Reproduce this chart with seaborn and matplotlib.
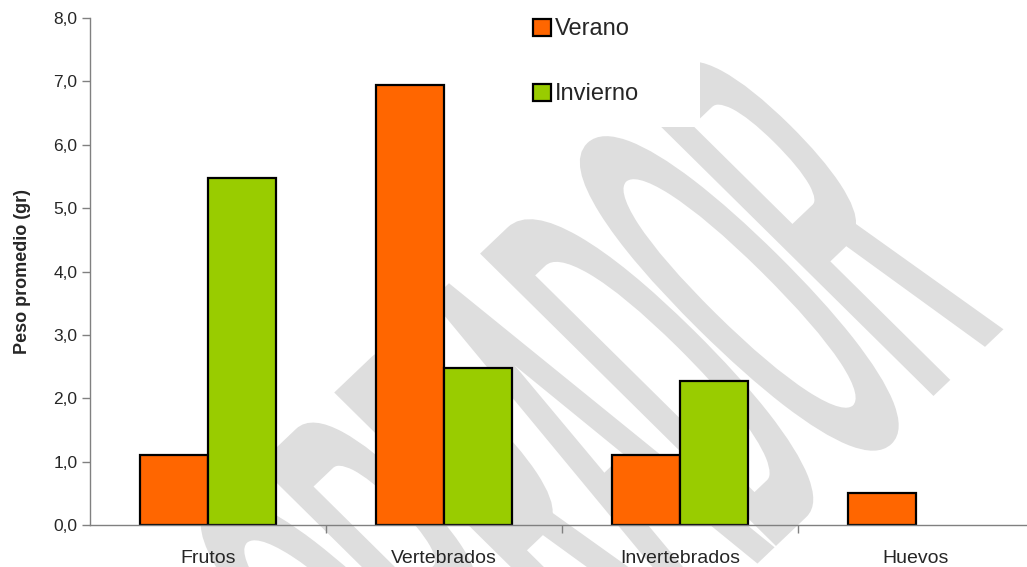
import numpy as np
import pandas as pd
import seaborn as sns
import matplotlib
matplotlib.use('Agg')
import matplotlib.pyplot as plt
from matplotlib.patches import Patch, PathPatch, Rectangle
from matplotlib.textpath import TextPath
from matplotlib.font_manager import FontProperties
from matplotlib.transforms import Affine2D, IdentityTransform
from matplotlib.ticker import FuncFormatter

# Data
categories = ['Frutos', 'Vertebrados', 'Invertebrados', 'Huevos']
verano = [1.1, 6.95, 1.1, 0.5]
invierno = [5.48, 2.47, 2.28, None]
seasons = ['Verano', 'Invierno']
colors = ['#FF6600', '#99CC00']

df = pd.DataFrame({
    'categoria': categories * 2,
    'peso': verano + invierno,
    'estacion': ['Verano'] * 4 + ['Invierno'] * 4,
}).dropna()

sns.set_style('white')
plt.rcParams['font.family'] = ['Liberation Sans', 'DejaVu Sans']

fig = plt.figure(figsize=(10.27, 5.67), dpi=100)
ax = fig.add_axes([90 / 1027, 42 / 567, 944 / 1027, 507 / 567])
ax.set_facecolor('none')

# Watermark "BORRADOR" behind the bars (pixel coords, origin bottom-left)
tp = TextPath((0, 0), 'BORRADOR', size=1,
              prop=FontProperties(family='Liberation Sans'))
wm = Affine2D(np.array([[105.0, -420.0, 394.0],
                        [100.0, 415.0, -336.0],
                        [0.0, 0.0, 1.0]]))
ax.add_patch(PathPatch(tp, transform=wm, facecolor='#DEDEDE',
                       edgecolor='#DEDEDE', linewidth=7, zorder=0,
                       clip_on=False))
# white box behind the legend
ax.add_patch(Rectangle((520, 440), 180, 130, transform=IdentityTransform(),
                       facecolor='white', edgecolor='none', zorder=1,
                       clip_on=False))

sns.barplot(data=df, x='categoria', y='peso', hue='estacion',
            order=categories, hue_order=seasons, palette=colors,
            saturation=1, width=0.576, edgecolor='black', linewidth=1.6,
            legend=False, ax=ax, zorder=2)

ax.set_ylim(0, 8)
ax.set_xlim(-0.5, 3.5)
ax.set_yticks(range(9))
ax.yaxis.set_major_formatter(FuncFormatter(lambda v, p: f'{v:.1f}'.replace('.', ',')))
ax.set_xticks(range(4))
ax.set_xticklabels(categories)
ax.set_xticks([0.5, 1.5, 2.5], minor=True)
ax.tick_params(axis='x', which='major', length=0, pad=18, labelsize=14)
ax.tick_params(axis='x', which='minor', length=6, width=1, color='#808080',
               direction='out', bottom=True)
ax.tick_params(axis='y', length=6, width=1, color='#808080', direction='out',
               left=True, labelsize=12.5, pad=3)
ax.set_xlabel('')
ax.set_ylabel('Peso promedio (gr)', fontsize=13, fontweight='bold', labelpad=16)

for s in ['top', 'right']:
    ax.spines[s].set_visible(False)
for s in ['left', 'bottom']:
    ax.spines[s].set_color('#808080')
    ax.spines[s].set_linewidth(1)
    ax.spines[s].set_zorder(3)

handles = [Patch(facecolor=c, edgecolor='black', linewidth=1.6, label=l)
           for c, l in zip(colors, seasons)]
fig.legend(handles=handles, loc='upper left', bbox_to_anchor=(512 / 1027, 1.005),
           frameon=False, fontsize=17, handlelength=0.75, handleheight=0.75,
           handletextpad=0.15, labelspacing=1.82)

fig.savefig('out.png', dpi=100)
